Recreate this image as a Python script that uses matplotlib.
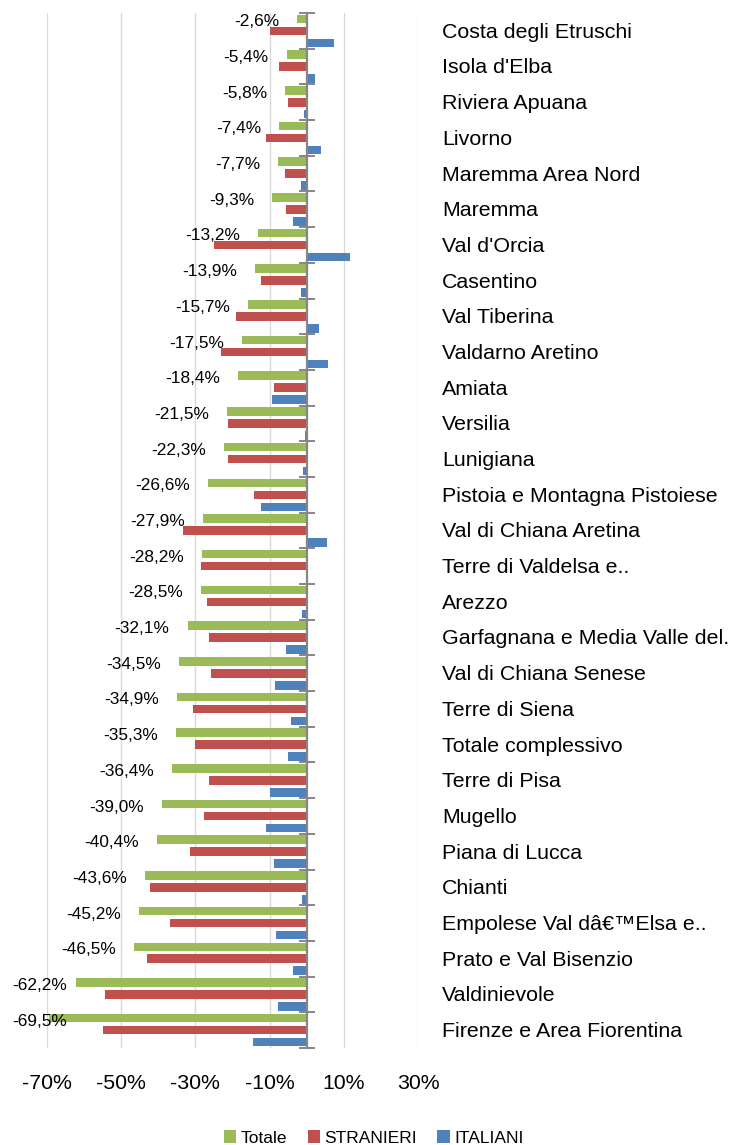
import matplotlib
matplotlib.use("Agg")
import matplotlib.pyplot as plt
import matplotlib.transforms as mtransforms
import numpy as np

plt.rcParams['font.family'] = ['Liberation Sans', 'DejaVu Sans']

areas = ["Costa degli Etruschi", "Isola d'Elba", "Riviera Apuana", "Livorno",
         "Maremma Area Nord", "Maremma", "Val d'Orcia", "Casentino", "Val Tiberina",
         "Valdarno Aretino", "Amiata", "Versilia", "Lunigiana",
         "Pistoia e Montagna Pistoiese", "Val di Chiana Aretina", "Terre di Valdelsa e..",
         "Arezzo", "Garfagnana e Media Valle del.", "Val di Chiana Senese",
         "Terre di Siena", "Totale complessivo", "Terre di Pisa", "Mugello",
         "Piana di Lucca", "Chianti", "Empolese Val dâ€™Elsa e..",
         "Prato e Val Bisenzio", "Valdinievole", "Firenze e Area Fiorentina"]

totale = [-2.6, -5.4, -5.8, -7.4, -7.7, -9.3, -13.2, -13.9, -15.7, -17.5, -18.4,
          -21.5, -22.3, -26.6, -27.9, -28.2, -28.5, -32.1, -34.5, -34.9, -35.3,
          -36.4, -39.0, -40.4, -43.6, -45.2, -46.5, -62.2, -69.5]
stranieri = [-10.0, -7.4, -5.0, -11.1, -5.9, -5.5, -24.9, -12.2, -19.1, -23.2, -8.7,
             -21.2, -21.2, -14.3, -33.3, -28.5, -26.9, -26.4, -25.8, -30.5, -30.2,
             -26.4, -27.8, -31.4, -42.1, -36.9, -42.9, -54.2, -54.8]
italiani = [7.3, 2.1, -0.7, 3.9, -1.7, -3.8, 11.6, -1.7, 3.4, 5.7, -9.5,
            -0.4, -1.0, -12.3, 5.5, 0.3, -1.4, -5.6, -8.6, -4.3, -5.1,
            -10.0, -11.1, -8.9, -1.4, -8.3, -3.7, -7.8, -14.6]

x_ticks = [-70, -50, -30, -10, 10, 30]

GREEN = '#9BBB59'
RED = '#C0504D'
BLUE = '#4F81BD'
AXIS_GREY = '#868686'

W, H = 739, 1145
fig = plt.figure(figsize=(W / 100, H / 100), dpi=100)
ax = fig.add_axes([46.7 / W, 1 - 1048 / H, (418.3 - 46.7) / W, (1048 - 13) / H])

y = np.arange(len(areas))
off = 0.336
bh = 0.24
ax.barh(y - off, totale, height=bh, color=GREEN, label='Totale', zorder=3)
ax.barh(y, stranieri, height=bh, color=RED, label='STRANIERI', zorder=3)
ax.barh(y + off, italiani, height=bh, color=BLUE, label='ITALIANI', zorder=3)

ax.set_xlim(-70, 30)
ax.set_ylim(len(areas) - 0.5, -0.5)

ax.set_xticks(x_ticks)
ax.set_xticklabels([f"{t}%" for t in x_ticks], fontsize=15.3)
ax.tick_params(axis='x', length=0, pad=19)
ax.grid(axis='x', color='#D9D9D9', linewidth=1.0, zorder=0)
ax.set_axisbelow(True)

for s in ['top', 'right', 'bottom']:
    ax.spines[s].set_visible(False)
ax.spines['left'].set_position(('data', 0))
ax.spines['left'].set_color(AXIS_GREY)
ax.spines['left'].set_linewidth(1.6)
ax.spines['left'].set_zorder(4)
ax.set_yticks(np.arange(-0.5, len(areas), 1.0))
ax.set_yticklabels([])
ax.tick_params(axis='y', direction='inout', length=11.5, width=1.4, color=AXIS_GREY)

# category labels on the right of the plot area
lab_tr = mtransforms.blended_transform_factory(ax.transAxes, ax.transData)
for i, name in enumerate(areas):
    ax.text(1.0638, i + 0.04, name, transform=lab_tr, ha='left', va='center',
            fontsize=15.4, color='black')

# value labels for Totale
shift = mtransforms.ScaledTranslation(-18 / 100, -3 / 100, fig.dpi_scale_trans)
val_texts = []
for i, v in enumerate(totale):
    t = ax.text(v, i - off, f"{v:.1f}%".replace('.', ','), transform=ax.transData + shift,
                ha='right', va='center', fontsize=12.4, color='black', clip_on=False, zorder=6)
    val_texts.append((t, i))

fig.canvas.draw()
renderer = fig.canvas.get_renderer()
clamp_tr = mtransforms.blended_transform_factory(fig.transFigure, ax.transData) + \
    mtransforms.ScaledTranslation(0, -3 / 100, fig.dpi_scale_trans)
for t, i in val_texts:
    bb = t.get_window_extent(renderer)
    if bb.x0 < 12.7:
        t.set_transform(clamp_tr)
        t.set_position((12.7 / W, i - off))
        t.set_horizontalalignment('left')

ax.legend(loc='center', bbox_to_anchor=(373.5 / W, 7 / H), bbox_transform=fig.transFigure,
          ncol=3, frameon=False, fontsize=12.5, handlelength=0.7, handleheight=0.7,
          handletextpad=0.25, columnspacing=1.2, borderpad=0)

fig.savefig('out.png', dpi=100, facecolor='white')
